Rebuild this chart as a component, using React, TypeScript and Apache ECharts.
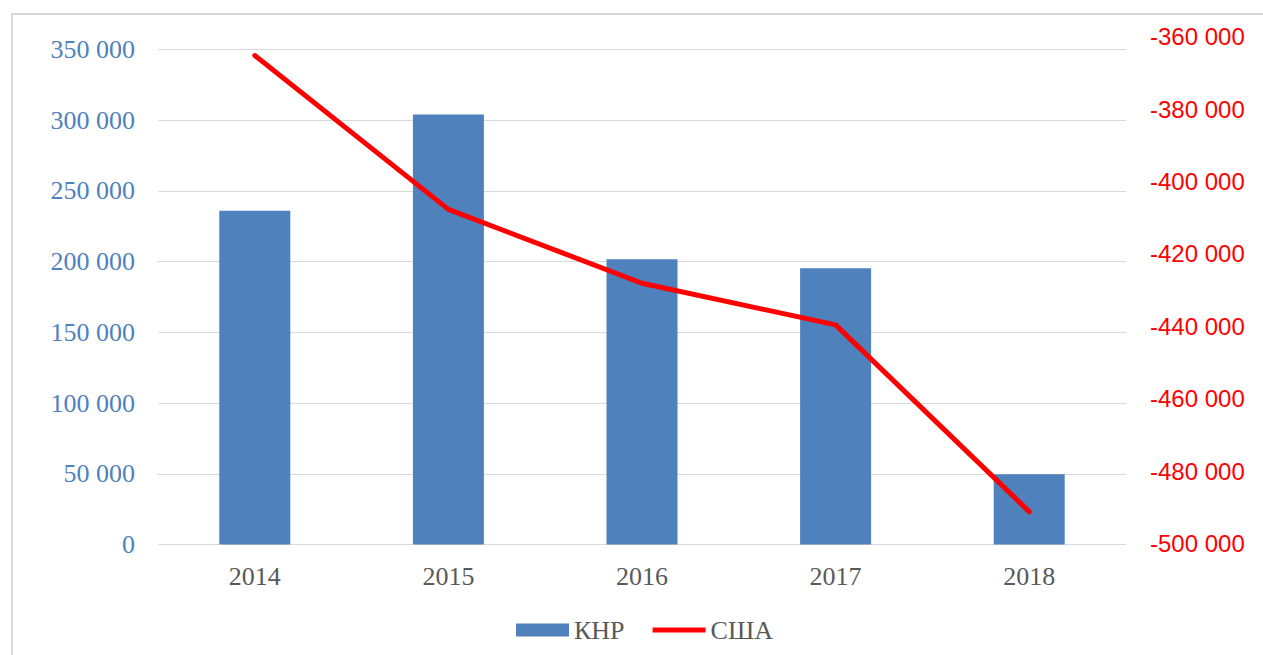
import React, { useEffect, useRef } from "react";
import * as echarts from "echarts";

const years = ["2014", "2015", "2016", "2017", "2018"];
const chinaValues = [236000, 304000, 201700, 195300, 49600];
const usaValues = [-365200, -407700, -428100, -439600, -491200];
const leftAxis = { min: 0, max: 350000, interval: 50000 };
const rightAxis = { min: -500000, max: -360000, interval: 20000 };
const seriesNames = ["КНР", "США"];

const fmt = (v: number) => {
  const s = Math.abs(Math.round(v)).toString().replace(/\B(?=(\d{3})+(?!\d))/g, " ");
  return (v < 0 ? "-" : "") + s;
};

export default function App() {
  const ref = useRef<HTMLDivElement>(null);
  useEffect(() => {
    if (!ref.current) return;
    const chart = echarts.init(ref.current, undefined, { renderer: "svg" });
    const serif = "'Liberation Serif', 'Times New Roman', serif";
    const sans = "'Liberation Sans', Arial, sans-serif";
    chart.setOption({
      animation: false,
      backgroundColor: "#ffffff",
      graphic: [
        {
          type: "rect",
          shape: { x: 12, y: 14, width: 1400, height: 800 },
          style: { fill: "none", stroke: "#d9d9d9", lineWidth: 2 },
          silent: true,
          z: -1,
        },
      ],
      legend: {
        left: 511,
        top: 612,
        itemWidth: 53,
        itemHeight: 13,
        itemGap: 28,
        textStyle: { fontFamily: serif, fontSize: 26, color: "#595959" },
        data: [
          { name: seriesNames[0], icon: "rect" },
          { name: seriesNames[1], icon: "path://M0 0H100V9.5H0Z" },
        ],
      },
      grid: [
        { left: 158, right: 137, top: 49.5, bottom: 110.5 },
        { left: 158, right: 137, top: 36.7, bottom: 111.5 },
      ],
      xAxis: [
        {
          type: "category",
          gridIndex: 0,
          data: years,
          axisLine: { show: false },
          axisTick: { show: false },
          axisLabel: { fontFamily: serif, fontSize: 26, color: "#595959", margin: 19 },
        },
        {
          type: "category",
          gridIndex: 1,
          data: years,
          show: false,
        },
      ],
      yAxis: [
        {
          type: "value",
          gridIndex: 0,
          min: leftAxis.min,
          max: leftAxis.max,
          interval: leftAxis.interval,
          axisLine: { show: false },
          axisTick: { show: false },
          splitLine: { lineStyle: { color: "#d9d9d9", width: 1 } },
          axisLabel: {
            fontFamily: serif,
            fontSize: 26,
            color: "#4f81bd",
            margin: 23,
            formatter: (v: number) => fmt(v),
          },
        },
        {
          type: "value",
          gridIndex: 1,
          position: "right",
          min: rightAxis.min,
          max: rightAxis.max,
          interval: rightAxis.interval,
          axisLine: { show: false },
          axisTick: { show: false },
          splitLine: { show: false },
          axisLabel: {
            fontFamily: sans,
            fontSize: 24,
            color: "#ff0000",
            margin: 24,
            formatter: (v: number) => fmt(v),
          },
        },
      ],
      series: [
        {
          name: seriesNames[0],
          type: "bar",
          xAxisIndex: 0,
          yAxisIndex: 0,
          data: chinaValues,
          barWidth: 71,
          itemStyle: { color: "#4f81bd" },
        },
        {
          name: seriesNames[1],
          type: "line",
          xAxisIndex: 1,
          yAxisIndex: 1,
          data: usaValues,
          symbol: "none",
          lineStyle: { color: "#ff0000", width: 5, cap: "round", join: "round" },
          itemStyle: { color: "#ff0000" },
          z: 3,
        },
      ],
    });
    return () => chart.dispose();
  }, []);
  return (
    <div
      ref={ref}
      style={{ position: "fixed", left: 0, top: 0, width: 1263, height: 655 }}
    />
  );
}
